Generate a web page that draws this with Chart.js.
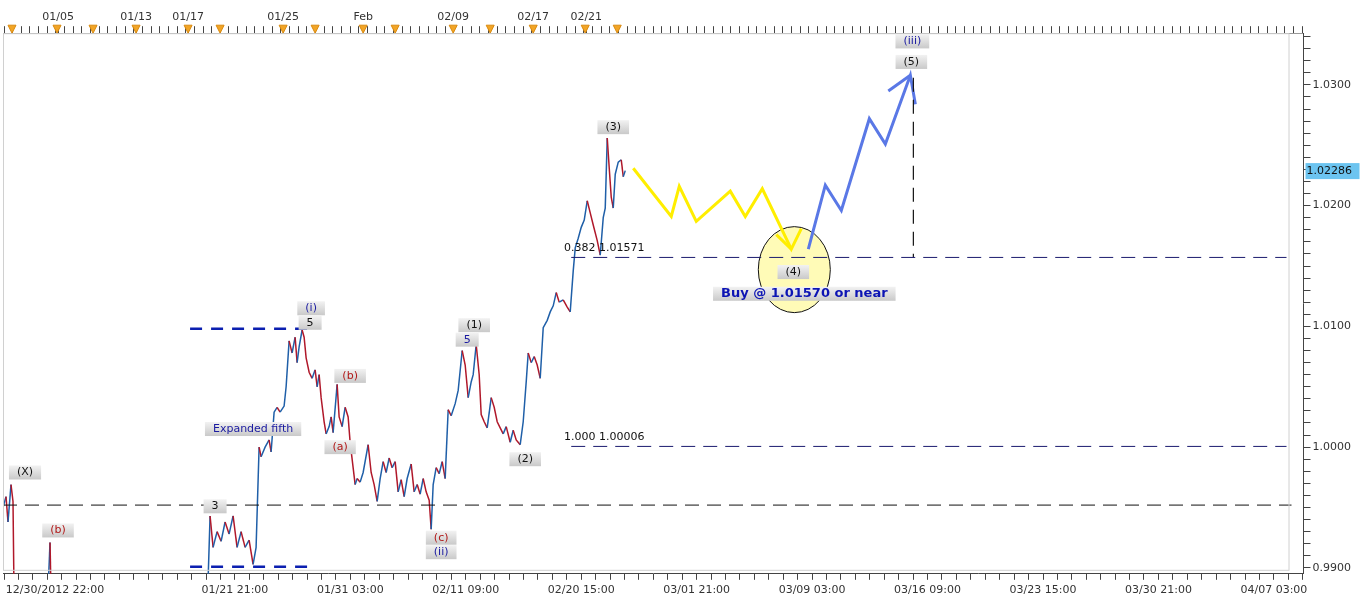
<!DOCTYPE html>
<html>
<head>
<meta charset="UTF-8" />
<title>EUR wave count</title>
<script src="https://cdn.jsdelivr.net/npm/chart.js"></script>
<style>
  body { margin:0; background:#fff; }
  #c   { display:block; }
</style>
</head>
<body>
<canvas id="c" width="1360" height="608"></canvas>
<script>
  /* ---------- data (x = time slot, y = price) ---------- */
  const priceX = [0,3,5,8,10,11,null,45,47,48,null,
    205,207,210,214,218,222,226,230,234,238,242,246,250,253,256,258,262,266,268,271,274,277,281,283,286,289,292,294,296,299,
    301,303,306,309,312,314,316,318,321,323,326,328,330,334,336,339,342,345,347,352,354,357,360,365,368,371,374,377,380,
    383,386,389,392,395,398,401,404,408,411,414,417,420,423,426,428,430,433,436,439,442,445,448,452,455,459,462,465,468,
    470,473,476,478,481,484,488,491,494,497,500,503,507,510,513,517,520,523,525,528,531,534,537,540,544,547,550,553,556,
    560,564,567,570,572,575,578,581,584,587,590,594,597,600,602,604,606,608,610,612,615,618,620,622];
  const priceY = [0.9950,0.9959,0.9938,0.9969,0.9955,0.9880,null,0.9880,0.9921,0.9880,null,
    0.9890,0.9943,0.9917,0.9930,0.9922,0.9938,0.9928,0.9943,0.9917,0.9930,0.9917,0.9923,0.9903,0.9917,1.0000,0.9992,1.0000,1.0006,0.9996,1.0029,1.0033,1.0029,1.0034,1.0050,1.0088,1.0078,1.0091,1.0070,1.0083,1.0097,
    1.0091,1.0074,1.0062,1.0057,1.0064,1.0050,1.0060,1.0041,1.0021,1.0011,1.0017,1.0025,1.0012,1.0052,1.0025,1.0017,1.0033,1.0025,1.0004,0.9969,0.9974,0.9971,0.9979,1.0002,0.9979,0.9969,0.9955,0.9974,0.9988,
    0.9979,0.9991,0.9983,0.9988,0.9963,0.9973,0.9959,0.9974,0.9986,0.9963,0.9969,0.9961,0.9974,0.9963,0.9956,0.9932,0.9969,0.9983,0.9978,0.9988,0.9974,1.0031,1.0026,1.0036,1.0047,1.0080,1.0068,1.0041,1.0054,
    1.0060,1.0085,1.0060,1.0027,1.0021,1.0016,1.0041,1.0033,1.0021,1.0016,1.0011,1.0017,1.0004,1.0014,1.0006,1.0002,1.0021,1.0054,1.0078,1.0070,1.0075,1.0068,1.0057,1.0099,1.0105,1.0112,1.0117,1.0128,1.0120,
    1.0122,1.0116,1.0112,1.0146,1.0165,1.0173,1.0182,1.0188,1.0204,1.0194,1.0184,1.0171,1.0159,1.0190,1.0198,1.0256,1.0231,1.0207,1.0198,1.0226,1.0236,1.0238,1.0224,1.0229];

  const yellowX = [630,668,676,693,727,742,759,788,798];
  const yellowY = [1.0231,1.0191,1.0216,1.0187,1.0212,1.0191,1.0214,1.0164,1.0181];
  const yellowHeadX = [773,788], yellowHeadY = [1.0176,1.0164];
  const blueX = [805,822,838,866,882,907,912];
  const blueY = [1.0164,1.0217,1.0196,1.0272,1.0251,1.0308,1.0284];
  const blueHeadX = [885,907], blueHeadY = [1.0295,1.0308];

  const fibLevels   = [1.01571, 1.00006];
  const fibStart    = [568, 568];
  const blackLevel  = 0.9952;
  const boxLevels   = [1.0098, 0.9901];   // thick blue dashed
  const lastPrice   = 1.02286;
  const targetX     = 910;

  // labels: [text, x, price, colour, boxed, bold]
  const waveLabels = [
    ['(X)',22,0.9979,'#111',1], ['(b)',55,0.9931,'#b01818',1], ['3',212,0.9951,'#111',1],
    ['Expanded fifth',250,1.0015,'#1a1aa0',1], ['(i)',308,1.0115,'#1a1aa0',1], ['5',307,1.0103,'#111',1],
    ['(b)',347,1.0059,'#b01818',1], ['(a)',337,1.0000,'#b01818',1], ['(c)',438,0.9925,'#b01818',1],
    ['(ii)',438,0.9913,'#1a1aa0',1], ['(1)',471,1.0101,'#111',1], ['5',464,1.0089,'#1a1aa0',1],
    ['(2)',522,0.9990,'#111',1], ['(3)',610,1.0265,'#111',1], ['(4)',790,1.0145,'#111',1],
    ['Buy @ 1.01570 or near',801,1.0127,'#0c14b4',1,1], ['(iii)',909,1.0336,'#1a1aa0',1], ['(5)',908,1.0319,'#111',1],
    ['0.382 1.01571',601,1.0165,'#111',0], ['1.000 1.00006',601,1.0008,'#111',0]
  ];

  const bottomLabels = ['12/30/2012 22:00','','01/21 21:00','01/31 03:00','02/11 09:00','02/20 15:00',
                        '03/01 21:00','03/09 03:00','03/16 09:00','03/23 15:00','03/30 21:00','04/07 03:00'];
  const topLabelX = [55,133,185,280,360,450,530,583];
  const topLabels = ['01/05','01/13','01/17','01/25','Feb','02/09','02/17','02/21'];
  const markerX = [9,54,90,133,185,217,280,312,360,392,450,487,530,582,614];

  /* ---------- helpers ---------- */
  const pts = (xs,ys) => xs.map((x,i)=> x===null ? {x:NaN,y:null} : {x, y:ys[i]});
  const line = (data,color,w,dash,extra={}) => Object.assign({type:'line',data,borderColor:color,borderWidth:w,
    borderDash:dash||[],pointRadius:0,fill:false,tension:0},extra);

  const FONT = 'DejaVu Sans, Verdana, sans-serif';

  const annot = {
    id:'annot',
    beforeDatasetsDraw(ch){
      const {ctx,scales:{x,y}} = ch;
      ctx.save();
      ctx.beginPath();
      ctx.ellipse(x.getPixelForValue(791), y.getPixelForValue(1.0147), 36, 43, 0, 0, Math.PI*2);
      ctx.fillStyle='rgba(255,250,170,0.85)'; ctx.fill();
      ctx.strokeStyle='#111'; ctx.lineWidth=1; ctx.stroke();
      ctx.restore();
    },
    afterDatasetsDraw(ch){
      const {ctx,scales:{x,y},chartArea:a} = ch;
      ctx.save();
      ctx.textBaseline='middle'; ctx.textAlign='center';
      waveLabels.forEach(([t,lx,ly,col,boxed,bold])=>{
        ctx.font = (bold?'bold 13px ':'11px ')+FONT;
        const px=x.getPixelForValue(lx), py=y.getPixelForValue(ly), w=ctx.measureText(t).width;
        if (boxed){
          const g=ctx.createLinearGradient(0,py-7,0,py+7);
          g.addColorStop(0,'#f2f2f2'); g.addColorStop(1,'#c9c9c9');
          ctx.fillStyle=g; ctx.fillRect(px-w/2-8,py-7,w+16,14);
        }
        ctx.fillStyle=col; ctx.fillText(t,px,py);
      });
      // top axis markers
      ctx.fillStyle='#f2a526'; ctx.strokeStyle='#d98a10';
      markerX.forEach(v=>{
        const px=x.getPixelForValue(v), t=a.top-8;
        ctx.beginPath(); ctx.moveTo(px-4,t); ctx.lineTo(px+4,t); ctx.lineTo(px,t+8); ctx.closePath();
        ctx.fill(); ctx.stroke();
      });
      // last price tag
      const py=y.getPixelForValue(lastPrice);
      ctx.font='11px '+FONT; ctx.textAlign='left';
      ctx.fillStyle='#6cc4f0'; ctx.fillRect(a.right+2,py-8,54,16);
      ctx.fillStyle='#111'; ctx.fillText(lastPrice.toFixed(5),a.right+3,py);
      // plot frame
      ctx.strokeStyle='#d0d0d0'; ctx.lineWidth=1;
      ctx.strokeRect(a.left+0.5,a.top+0.5,a.width-15,a.height-4);
      ctx.restore();
    }
  };

  new Chart(document.getElementById('c'),{
    data:{ datasets:[
      line([{x:0,y:blackLevel},{x:1288,y:blackLevel}],'#111',1,[14,8]),
      line([{x:fibStart[0],y:fibLevels[0]},{x:1283,y:fibLevels[0]}],'#1a1a6e',1,[14,8]),
      line([{x:fibStart[1],y:fibLevels[1]},{x:1283,y:fibLevels[1]}],'#1a1a6e',1,[14,8]),
      line([{x:187,y:boxLevels[0]},{x:312,y:boxLevels[0]}],'#0b1fb0',2.5,[12,9]),
      line([{x:187,y:boxLevels[1]},{x:312,y:boxLevels[1]}],'#0b1fb0',2.5,[12,9]),
      line([{x:targetX,y:1.0306},{x:targetX,y:fibLevels[0]}],'#111',1.2,[14,8]),
      line(pts(priceX,priceY),'#1f5fa8',1.5,null,{spanGaps:false,
        segment:{borderColor:s=>s.p1.parsed.y>=s.p0.parsed.y?'#1f5fa8':'#b0182a'}}),
      line(pts(yellowX,yellowY),'#ffee00',3),
      line(pts(yellowHeadX,yellowHeadY),'#ffee00',3),
      line(pts(blueX,blueY),'#5a78e6',3),
      line(pts(blueHeadX,blueHeadY),'#5a78e6',3)
    ]},
    options:{
      responsive:false, animation:false,
      layout:{padding:{top:9,right:7,left:-10,bottom:7}},
      plugins:{legend:{display:false},tooltip:{enabled:false}},
      scales:{
        x:{ type:'linear', position:'bottom', min:0, max:1300,
            grid:{drawOnChartArea:false, tickLength:6, color:'#444',
                  tickColor:c=>c.tick && c.tick.value===52?'rgba(0,0,0,0)':'#444'},
            border:{color:'#444'},
            afterBuildTicks(ax){
              const t=[];
              for(let k=0;k<12;k++){ for(let m=0;m<8;m++){ const v=1+115.4*k+m*14.42; if(v<=1300) t.push({value:v}); } }
              t.push({value:52});
              ax.ticks=t.sort((a,b)=>a.value-b.value);
            },
            ticks:{ autoSkip:false, maxRotation:0, padding:4, color:'#333', font:{family:FONT,size:11},
              callback(v){ if(Math.abs(v-52)<0.01) return bottomLabels[0];
                const k=(v-1)/115.4; if(Math.abs(k-Math.round(k))<1e-6 && k>=1) return bottomLabels[Math.round(k)]; return ''; } } },
        x2:{ type:'linear', position:'top', min:0, max:1300,
            grid:{drawOnChartArea:false, tickLength:7, color:'#444'},
            border:{color:'#999'},
            afterBuildTicks(ax){
              const t=[];
              for(let v=1;v<1300;v+=8.65) t.push({value:v});
              topLabelX.forEach(v=>t.push({value:v}));
              ax.ticks=t.sort((a,b)=>a.value-b.value);
            },
            ticks:{ autoSkip:false, maxRotation:0, padding:2, color:'#333', font:{family:FONT,size:11},
              callback(v){ const i=topLabelX.indexOf(v); return i>=0?topLabels[i]:''; } } },
        y:{ position:'right', min:0.98951, max:1.03428,
            grid:{drawOnChartArea:false, tickLength:7, color:'#444'},
            border:{color:'#444'},
            afterBuildTicks(ax){
              const t=[]; for(let i=990;i<=1034;i++) t.push({value:i/1000}); ax.ticks=t;
            },
            ticks:{ autoSkip:false, padding:2, color:'#333', font:{family:FONT,size:11},
              callback(v){ const r=Math.round(v*1000); return r%10===0?(r/1000).toFixed(4):''; } } }
      }
    },
    plugins:[annot]
  });
</script>
</body>
</html>
